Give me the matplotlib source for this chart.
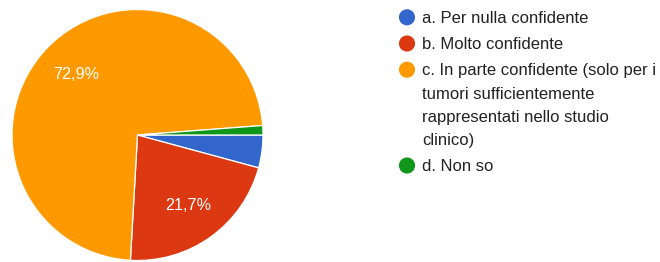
import matplotlib
matplotlib.use("Agg")
import matplotlib.pyplot as plt

# Data
labels = [
    "a. Per nulla confidente",
    "b. Molto confidente",
    "c. In parte confidente (solo per i\ntumori sufficientemente\nrappresentati nello studio\nclinico)",
    "d. Non so",
]
counts = [7, 36, 121, 2]
colors = ["#3366cc", "#dc3912", "#ff9900", "#109618"]

W, H = 660, 262
fig = plt.figure(figsize=(W / 100, H / 100), dpi=100)
fig.patch.set_facecolor("white")
FONT = ["Liberation Sans", "DejaVu Sans"]

# Pie
cx, cy, r = 137.5, 135.0, 125.5
ax = fig.add_axes([(cx - r) / W, (H - cy - r) / H, 2 * r / W, 2 * r / H])


def fmt(p):
    return ("%.1f%%" % p).replace(".", ",") if p >= 5 else ""


wedges, texts, autotexts = ax.pie(
    counts,
    colors=colors,
    startangle=0,
    counterclock=False,
    autopct=fmt,
    pctdistance=0.69,
    wedgeprops=dict(edgecolor="white", linewidth=0.9),
    textprops=dict(color="white", fontsize=11.6, family=FONT),
)
ax.set_xlim(-1, 1)
ax.set_ylim(-1, 1)
ax.set_aspect("equal")
ax.axis("off")

# Legend (pixel-coordinate overlay)
lax = fig.add_axes([0, 0, 1, 1])
lax.set_xlim(0, W)
lax.set_ylim(H, 0)
lax.axis("off")

y = 17.3
line_gap = 23.2
entry_gap = 26.2
for lab, col in zip(labels, colors):
    lax.scatter([407], [y], s=135, color=col, edgecolors="none")
    lines = lab.split("\n")
    for i, ln in enumerate(lines):
        lax.text(422, y + i * line_gap + 5.7, ln, fontsize=12, family=FONT,
                 color="#222222", va="baseline", ha="left")
    y += (len(lines) - 1) * line_gap + entry_gap

fig.savefig("out.png", dpi=100, facecolor="white")
